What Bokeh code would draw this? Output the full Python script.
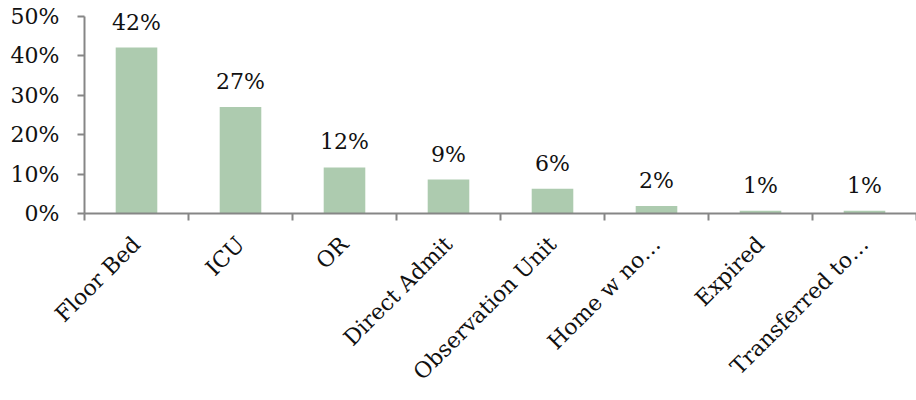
import math
from bokeh.plotting import figure
from bokeh.models import ColumnDataSource, FixedTicker, LabelSet, Range1d
from bokeh.core.properties import value
from bokeh.embed import file_html
from bokeh.resources import INLINE

categories = ["Floor Bed", "ICU", "OR", "Direct Admit", "Observation Unit",
              "Home w no…", "Expired", "Transferred to…"]
values = [0.421, 0.270, 0.117, 0.086, 0.063, 0.019, 0.007, 0.007]
y_ticks = [0.0, 0.1, 0.2, 0.3, 0.4, 0.5]
y_tick_labels = ["0%", "10%", "20%", "30%", "40%", "50%"]

FONT = "DejaVu Serif"
GREY = "#868686"
FS = "22px"

xs = [i + 0.5 for i in range(len(categories))]
src = ColumnDataSource(dict(
    x=xs, top=values, label=[f"{v*100:.0f}%" for v in values]))

p = figure(width=916, height=400, output_backend="svg", toolbar_location=None,
           x_range=Range1d(0, len(categories)), y_range=Range1d(0, 0.5405),
           min_border_left=84, min_border_right=0, min_border_top=0,
           min_border_bottom=187)
p.outline_line_color = None
p.grid.visible = False

p.vbar(x="x", top="top", width=0.4, bottom=0, source=src,
       fill_color="#adcbaf", line_color=None)

p.add_layout(LabelSet(x="x", y="top", text="label", source=src,
                      text_align="center", text_baseline="bottom", y_offset=13,
                      text_font=value(FONT), text_font_size=value(FS),
                      text_color="#111111"))

xa = p.xaxis[0]
xa.ticker = FixedTicker(ticks=xs, minor_ticks=list(range(len(categories) + 1)))
xa.major_label_overrides = {x: c for x, c in zip(xs, categories)}
xa.major_label_orientation = math.pi / 4
xa.major_tick_out = 0
xa.major_tick_in = 0
xa.minor_tick_out = 7
xa.minor_tick_in = 0
xa.minor_tick_line_color = GREY
xa.minor_tick_line_width = 2
xa.axis_line_color = GREY
xa.axis_line_width = 2
xa.major_label_text_font = FONT
xa.major_label_text_font_size = FS
xa.major_label_text_color = "#111111"
xa.major_label_standoff = 20

ya = p.yaxis[0]
ya.bounds = (0, 0.5)
ya.ticker = FixedTicker(ticks=y_ticks, minor_ticks=[])
ya.major_label_overrides = {t: l for t, l in zip(y_ticks, y_tick_labels)}
ya.major_tick_out = 7
ya.major_tick_in = 0
ya.major_tick_line_color = GREY
ya.major_tick_line_width = 2
ya.axis_line_color = GREY
ya.axis_line_width = 2
ya.major_label_text_font = FONT
ya.major_label_text_font_size = FS
ya.major_label_text_color = "#111111"
ya.major_label_standoff = 18

open("out.html", "w").write(file_html(p, INLINE))
